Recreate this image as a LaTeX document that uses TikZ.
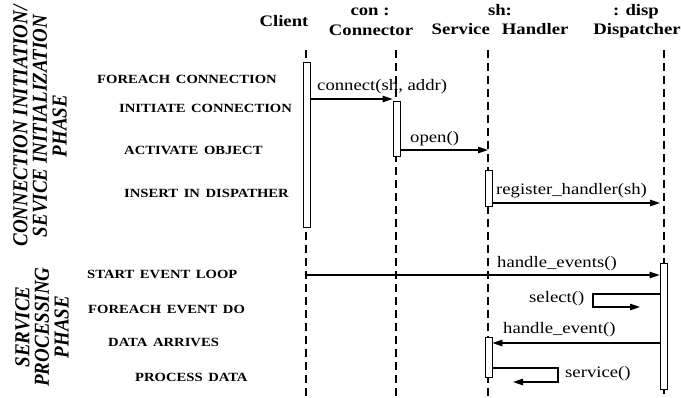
\documentclass[tikz,border=0pt]{standalone}
\usepackage{fontspec}
\setmainfont{Liberation Serif}
\newfontfamily\wideserif[FakeStretch=1.17]{Liberation Serif}
\usetikzlibrary{arrows.meta}

\begin{document}
\begin{tikzpicture}[x=1pt,y=-1pt,
  lifeline/.style={line width=1.1pt, dash pattern=on 8pt off 5pt},
  actbox/.style={draw, fill=white, line width=0.9pt, minimum width=7pt, inner sep=0pt, anchor=north},
  msg/.style={line width=1.1pt, -{Triangle[length=10pt,width=6.5pt]}},
  hdr/.style={font=\wideserif\bfseries\fontsize{16}{18}\selectfont, inner sep=0pt, anchor=base},
  mlabel/.style={font=\wideserif\fontsize{16}{18}\selectfont, inner sep=0pt, anchor=base west},
  steplabel/.style={font=\wideserif\bfseries\fontsize{12.5}{14}\selectfont, inner sep=0pt, anchor=base west},
  phase/.style={rotate=90, yscale=1.12, inner sep=0pt, align=center,
    font=\bfseries\itshape\fontsize{19}{17.5}\selectfont}
]
\useasboundingbox (0,0) rectangle (681,398);

% object headers
\node[hdr] (hClient) at (284,27) {Client};
\node[hdr] (hConA) at (370,16) {con :};
\node[hdr] (hConB) at (371,36) {Connector};
\node[hdr] (hShA) at (500,16) {sh:};
\node[hdr] (hShB) at (500,35) {Service\hspace{12pt}Handler};
\node[hdr] (hDispA) at (636,16) {: disp};
\node[hdr] (hDispB) at (637,35) {Dispatcher};

% lifeline ends
\coordinate (topClient) at (306,50);  \coordinate (botClient) at (306,398);
\coordinate (topCon) at (396,50);     \coordinate (botCon) at (396,398);
\coordinate (topSh) at (488,50);      \coordinate (botSh) at (488,397);
\coordinate (topDisp) at (664,50);    \coordinate (botDisp) at (664,394);

\draw[lifeline] (topClient) -- (botClient);
\draw[lifeline] (topCon) -- (botCon);
\draw[lifeline] (topSh) -- (botSh);
\draw[lifeline] (topDisp) -- (botDisp);

% activation bars
\node[actbox, minimum height=165pt] (actClient) at (306.5,62) {};
\node[actbox, minimum height=55pt] (actCon) at (396.5,101) {};
\node[actbox, minimum height=36pt] (actSh1) at (488.5,170) {};
\node[actbox, minimum height=40pt] (actSh2) at (488.5,337) {};
\node[actbox, minimum height=126pt] (actDisp) at (663.5,263) {};

% message rows
\coordinate (yConnect) at (0,99);
\coordinate (yOpen) at (0,150);
\coordinate (yReg) at (0,203);
\coordinate (yEvents) at (0,275);
\coordinate (selTurn) at (593,294);
\coordinate (yEvent) at (0,343);
\coordinate (svcTurn) at (558,368);

\draw[msg] (actClient.east |- yConnect) -- (actCon.west |- yConnect);
\draw[msg] (actCon.east |- yOpen) -- (topSh |- yOpen);
\draw[msg, shorten >=4pt] (actSh1.east |- yReg) -- (topDisp |- yReg);
\draw[msg] (topClient |- yEvents) -- (actDisp.west |- yEvents);
\draw[msg] (actDisp.west |- selTurn) -- (selTurn) -- ++(0,13) -- ++(47,0);
\draw[msg] (actDisp.west |- yEvent) -- (actSh2.east |- yEvent);
\draw[msg] (actSh2.east |- svcTurn) -- (svcTurn) -- ++(0,14) -- ++(-45,0);

% message labels
\node[mlabel] (lConnect) at (317,91) {connect(sh, addr)};
\node[mlabel] (lOpen) at (410,143) {open()};
\node[mlabel] (lReg) at (496,195) {register\_handler(sh)};
\node[mlabel] (lEvents) at (497,268) {handle\_events()};
\node[mlabel] (lSelect) at (529,303) {select()};
\node[mlabel] (lEvent) at (503,334) {handle\_event()};
\node[mlabel] (lService) at (565,378) {service()};

% step descriptions
\node[steplabel] (s1) at (97,84) {FOREACH\hspace{0.45em}CONNECTION};
\node[steplabel] (s2) at (119,113) {INITIATE\hspace{0.45em}CONNECTION};
\node[steplabel] (s3) at (124,155) {ACTIVATE\hspace{0.45em}OBJECT};
\node[steplabel] (s4) at (124,198) {INSERT\hspace{0.45em}IN\hspace{0.45em}DISPATHER};
\node[steplabel] (s5) at (87,279) {START\hspace{0.45em}EVENT\hspace{0.45em}LOOP};
\node[steplabel] (s6) at (88,314) {FOREACH\hspace{0.45em}EVENT\hspace{0.45em}DO};
\node[steplabel] (s7) at (108,347) {DATA\hspace{0.45em}ARRIVES};
\node[steplabel] (s8) at (135,382) {PROCESS\hspace{0.45em}DATA};

% phase captions
\node[phase] (phInit) at (40,126) {CONNECTION INITIATION/\\SEVICE INITIALIZATION\\PHASE};
\node[phase] (phServ) at (42,327) {SERVICE\\PROCESSING\\PHASE};
\end{tikzpicture}
\end{document}
